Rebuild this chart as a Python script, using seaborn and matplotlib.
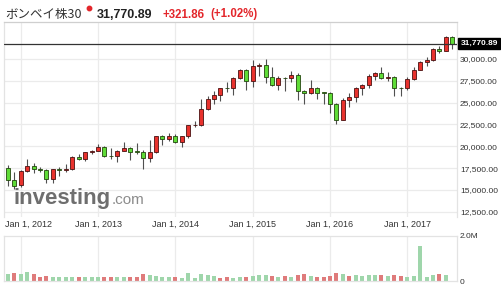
import numpy as np
import pandas as pd
import matplotlib
matplotlib.use("Agg")
import matplotlib.pyplot as plt
import matplotlib.transforms as mtransforms
from matplotlib.lines import Line2D
import seaborn as sns

# ---------------- data (monthly, Nov 2011 .. Aug 2017) ----------------
opens = [17540, 16170,
         15534, 17200, 17753, 17430, 17320, 16220, 17430, 17240, 17430, 18760, 18505, 19340,
         19427, 19895, 18862, 18836, 19504, 19760, 19396, 19346, 18620, 19380, 21165, 20792,
         21171, 20514, 21120, 22386, 22418, 24217, 25414, 25895, 26638, 26631, 27866, 28694,
         27499, 29183, 29361, 27957, 27011, 27828, 27781, 28115, 26283, 26155, 26657, 26146,
         26118, 24871, 23002, 25342, 25607, 26668, 26999, 28052, 28452, 27866, 27930, 26653,
         26626, 27656, 28743, 29621, 29918, 31146, 30922, 32514]
highs = [17908, 17003,
         17258, 18523, 18041, 17664, 17432, 17448, 17631, 17972, 18869, 19137, 19372, 19612,
         20203, 20000, 19754, 19622, 20443, 19860, 20351, 19569, 20739, 21205, 21321, 21484,
         21409, 21140, 22467, 22939, 25376, 25735, 26300, 26674, 27355, 27894, 28822, 28809,
         29844, 29560, 30025, 29094, 28071, 27968, 28578, 28418, 26472, 27618, 26824, 26256,
         26197, 25002, 25479, 26100, 26837, 27105, 28240, 28532, 29077, 28477, 28029, 26803,
         27981, 29065, 29824, 30184, 31255, 31523, 32672, 32686]
lows = [15478, 15135,
        15358, 17061, 16920, 17010, 15810, 15749, 16598, 17026, 17250, 18393, 18255, 19149,
        19400, 18793, 18568, 18144, 19451, 18467, 19126, 17448, 18166, 19264, 20137, 20568,
        20343, 19963, 20920, 22197, 22277, 24100, 24892, 25232, 26220, 25910, 27739, 26469,
        26777, 28044, 27248, 26898, 26424, 26307, 27416, 25298, 24834, 26000, 25451, 24868,
        23840, 22495, 22995, 24523, 25058, 25911, 26700, 27627, 27716, 27488, 25717, 25754,
        26447, 27590, 28716, 29241, 29804, 30680, 30900, 31128]
closes = [16123, 15455,
          17194, 17753, 17404, 17319, 16219, 17430, 17236, 17430, 18763, 18505, 19340, 19427,
          19895, 18862, 18836, 19504, 19760, 19396, 19346, 18620, 19380, 21165, 20792, 21171,
          20514, 21120, 22386, 22418, 24217, 25414, 25895, 26638, 26631, 27866, 28694, 27499,
          29183, 29361, 27957, 27011, 27828, 27781, 28115, 26283, 26155, 26657, 26146, 26118,
          24871, 23002, 25342, 25607, 26668, 26999, 28052, 28452, 27866, 27930, 26653, 26626,
          27656, 28743, 29621, 29918, 31146, 30922, 32514, 31770.89]

# volume in millions (Nov 2011 .. Jul 2017)
volumes = [0.33, 0.36, 0.33, 0.40, 0.33, 0.19, 0.22, 0.18, 0.18, 0.18, 0.18, 0.18, 0.16, 0.16,
           0.18, 0.16, 0.18, 0.18, 0.18, 0.18, 0.18, 0.30, 0.27, 0.22, 0.19, 0.19, 0.18, 0.15,
           0.34, 0.12, 0.30, 0.27, 0.22, 0.15, 0.16, 0.13, 0.16, 0.19, 0.24, 0.27, 0.27, 0.21,
           0.19, 0.22, 0.19, 0.27, 0.30, 0.24, 0.19, 0.19, 0.22, 0.37, 0.30, 0.24, 0.27, 0.24,
           0.27, 0.27, 0.27, 0.24, 0.27, 0.22, 0.19, 0.22, 1.57, 0.19, 0.27, 0.33, 0.27]
vol_dir = ["dn", "up", "dn", "dn", "up", "up", "up", "dn", "dn", "dn", "dn", "up", "dn", "dn",
           "dn", "up", "up", "dn", "dn", "up", "up", "up", "dn", "dn", "dn", "dn", "up", "dn",
           "dn", "dn", "dn", "dn", "dn", "up", "up", "dn", "dn", "up", "dn", "dn", "dn", "up",
           "dn", "up", "dn", "up", "up", "dn", "up", "up", "up", "up", "dn", "up", "dn", "dn",
           "dn", "dn", "up", "dn", "up", "up", "dn", "dn", "dn", "dn", "dn", "up", "dn"]

year_ticks = [2, 14, 26, 38, 50, 62]
year_labels = ["Jan 1, 2012", "Jan 1, 2013", "Jan 1, 2014", "Jan 1, 2015", "Jan 1, 2016", "Jan 1, 2017"]
price_ticks = [12500, 15000, 17500, 20000, 22500, 25000, 27500, 30000]
last_price = 31770.89

# ---------------- style ----------------
W, H = 502, 291
sns.set_theme(style="white")
plt.rcParams["font.family"] = ["Liberation Sans", "DejaVu Sans"]

RED = "#e8322d"
GREEN = "#5fdc37"
RED_EDGE = "#4a1212"
GREEN_EDGE = "#24460f"
GRID = "#ebebeb"
TXT = "#333333"

fig = plt.figure(figsize=(W / 100, H / 100), dpi=100)
fig.patch.set_facecolor("white")


def fx(x):
    return x / W


def fy(y):
    return 1 - y / H


ax = fig.add_axes([fx(4), fy(217), (457 - 4) / W, (217 - 22) / H])
axv = fig.add_axes([fx(4), fy(281), (457 - 4) / W, (281 - 236) / H])

XL = (-0.59, 69.72)

# ---------------- candles ----------------
idx = np.arange(len(opens))
o = np.array(opens, float)
c = np.array(closes, float)
hi = np.array(highs, float)
lo = np.array(lows, float)
up = c >= o

ax.vlines(idx, lo, hi, color="#505050", lw=0.8, zorder=3)
bottom = np.minimum(o, c)
height = np.maximum(np.abs(c - o), 90)
ax.bar(idx[up], height[up], bottom=bottom[up], width=0.62, color=RED,
       edgecolor=RED_EDGE, linewidth=0.6, zorder=4)
ax.bar(idx[~up], height[~up], bottom=bottom[~up], width=0.62, color=GREEN,
       edgecolor=GREEN_EDGE, linewidth=0.6, zorder=4)

ax.axhline(last_price, color="#333333", lw=0.9, zorder=5)

ax.set_xlim(*XL)
ax.set_ylim(11893, 34240)
ax.set_axisbelow(True)
for p in price_ticks:
    ax.axhline(p, color=GRID, lw=0.9, zorder=0)
for t in year_ticks:
    ax.axvline(t, color=GRID, lw=0.9, zorder=0)

ax.yaxis.tick_right()
ax.set_yticks(price_ticks)
ax.set_yticklabels([f"{p:,.2f}" for p in price_ticks])
ax.tick_params(axis="y", length=0, pad=2.2, labelsize=6, labelcolor=TXT)
ax.set_xticks(year_ticks)
ax.set_xticklabels(year_labels)
ax.tick_params(axis="x", length=0, pad=1.8, labelsize=6.5, labelcolor=TXT)
lbl0 = ax.get_xticklabels()[0]
lbl0.set_transform(lbl0.get_transform() + mtransforms.ScaledTranslation(8 / 100, 0, fig.dpi_scale_trans))

for s in ["left", "right"]:
    ax.spines[s].set_color("#e3e3e3")
    ax.spines[s].set_linewidth(0.9)
ax.spines["top"].set_color("#cfcfcf")
ax.spines["top"].set_linewidth(0.9)
ax.spines["bottom"].set_visible(False)

# price tag
tr = mtransforms.blended_transform_factory(ax.transAxes, ax.transData)
ax.text(1.0 + 3.5 / 453, last_price, "31,770.89", transform=tr, ha="left", va="center",
        fontsize=6, fontweight="bold", color="white", zorder=10, clip_on=False,
        bbox=dict(boxstyle="square,pad=0.25", facecolor="black", edgecolor="black"))

# watermark
fig.text(fx(14), fy(204), "investing", fontsize=16, fontweight="bold", color="#6e6e6e",
         va="baseline", ha="left", zorder=1)
fig.text(fx(112), fy(204), ".com", fontsize=11, color="#8c8c8c", va="baseline", ha="left", zorder=1)

# ---------------- volume (seaborn) ----------------
vdf = pd.DataFrame({"i": idx[:len(volumes)], "v": volumes, "d": vol_dir})
sns.barplot(data=vdf, x="i", y="v", hue="d", palette={"up": "#df7b7b", "dn": "#9fd6ab"},
            dodge=False, native_scale=True, width=0.62, errorbar=None, legend=False,
            linewidth=0, saturation=1, ax=axv)
axv.set_xlim(*XL)
axv.set_ylim(0, 2.0)
axv.set_xlabel("")
axv.set_ylabel("")
axv.set_xticks([])
for t in year_ticks:
    axv.axvline(t, color=GRID, lw=0.9, zorder=0)
axv.set_axisbelow(True)
axv.yaxis.tick_right()
axv.set_yticks([0, 2.0])
axv.set_yticklabels(["0", "2.0M"])
axv.tick_params(axis="y", length=0, pad=2.2, labelsize=6, labelcolor=TXT)
for s in axv.spines.values():
    s.set_color("#e3e3e3")
    s.set_linewidth(0.9)

# ---------------- title ----------------
fig.text(fx(5), fy(14.5), "ボンベイ株30", fontsize=9, color=TXT, va="center", ha="left",
         family=["Noto Sans CJK JP", "DejaVu Sans"])
fig.add_artist(Line2D([fx(89)], [fy(8)], marker="o", ms=3.2, color="#e3262b",
                      transform=fig.transFigure))
fig.text(fx(97), fy(14.5), "31,770.89", fontsize=9, fontweight="bold", color="#222222",
         va="center", ha="left")
fig.text(fx(163), fy(14.5), "+321.86", fontsize=8.3, fontweight="bold", color="#e3262b",
         va="center", ha="left")
fig.text(fx(210), fy(14.5), "(+1.02%)", fontsize=8.3, fontweight="bold", color="#e3262b",
         va="center", ha="left")

fig.savefig("out.png", dpi=100)
